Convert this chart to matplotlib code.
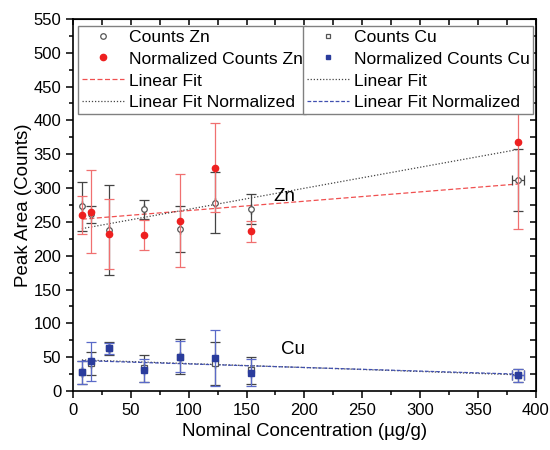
import matplotlib
matplotlib.use("Agg")
import matplotlib.pyplot as plt
from matplotlib.lines import Line2D
import numpy as np

plt.rcParams['font.family'] = ['Liberation Sans', 'DejaVu Sans']

# nominal concentrations (ug/g)
conc = [7.7, 15.4, 30.8, 61.5, 92.3, 123.0, 153.8, 384.6]
conc_err = [0, 0, 0, 0, 0, 0, 0, 5.5]

# Zn
zn_counts = [273, 261, 238, 269, 240, 278, 269, 312]
zn_counts_err = [36, 13, 67, 14, 34, 45, 22, 46]
zn_norm = [260, 265, 232, 231, 252, 330, 236, 368]
zn_norm_err = [28, 61, 52, 22, 69, 66, 16, 129]

# Cu
cu_counts = [28, 41, 63, 34, 51, 41, 31, 23]
cu_counts_err = [17, 17, 9, 20, 26, 32, 20, 9]
cu_norm = [28, 44, 63, 31, 51, 49, 27, 23]
cu_norm_err = [17, 29, 8, 17, 23, 41, 20, 9]

# linear fits (end points)
fit_x = [7.7, 384.6]
zn_fit = [254, 306]
zn_fit_norm = [240, 357]
cu_fit = [46, 24]
cu_fit_norm = [45, 25]

fig, ax = plt.subplots(figsize=(5.5, 4.5), dpi=100)
fig.subplots_adjust(left=0.1327, right=0.974, bottom=0.131, top=0.958)

eb = dict(elinewidth=0.9, capsize=3.5, capthick=0.9)

# Zn series
ax.errorbar(conc, zn_counts, yerr=zn_counts_err, xerr=conc_err, fmt='o', ms=4,
            mfc='white', mec='#555555', mew=0.9, ecolor='#444444', zorder=3, **eb)
ax.errorbar(conc, zn_norm, yerr=zn_norm_err, fmt='o', ms=4.5, color='#ee2020',
            ecolor='#f07070', zorder=4, **eb)
l_zn, = ax.plot(fit_x, zn_fit, ls=(0, (4, 2)), color='#f05050', lw=0.9)
l_znn, = ax.plot(fit_x, zn_fit_norm, ls=(0, (1, 1.5)), color='#444444', lw=0.9)

# Cu series
ax.errorbar(conc, cu_counts, yerr=cu_counts_err, xerr=conc_err, fmt='s', ms=4,
            mfc='white', mec='#555555', mew=0.9, ecolor='#444444', zorder=3, **eb)
ax.errorbar(conc, cu_norm, yerr=cu_norm_err, xerr=conc_err, fmt='s', ms=4,
            color='#2a3c9c', ecolor='#5a6ac8', zorder=4, **eb)
l_cu, = ax.plot(fit_x, cu_fit, ls=(0, (1, 1.5)), color='#444444', lw=0.9)
l_cun, = ax.plot(fit_x, cu_fit_norm, ls=(0, (3, 1.5)), color='#4050b0', lw=0.9)

ax.text(183, 287, 'Zn', fontsize=13.5, ha='center', va='center')
ax.text(190, 62, 'Cu', fontsize=13.5, ha='center', va='center')

ax.set_xlim(0, 400)
ax.set_ylim(0, 550)
ax.set_xticks(np.arange(0, 401, 50))
ax.set_xticks(np.arange(0, 401, 25), minor=True)
ax.set_yticks(np.arange(0, 551, 50))
ax.set_yticks(np.arange(0, 551, 25), minor=True)
ax.tick_params(which='major', direction='out', length=5, width=1.1, labelsize=12)
ax.tick_params(which='minor', direction='out', length=3, width=1.1)
for s in ax.spines.values():
    s.set_linewidth(1.2)

sx = ax.secondary_xaxis('top')
sx.set_xticks(np.arange(0, 401, 25))
sx.tick_params(direction='in', length=4, width=1.1, labeltop=False)
sy = ax.secondary_yaxis('right')
sy.set_yticks(np.arange(0, 551, 25))
sy.tick_params(direction='in', length=4, width=1.1, labelright=False)

ax.set_xlabel('Nominal Concentration (µg/g)', fontsize=13.5)
ax.set_ylabel('Peak Area (Counts)', fontsize=13.5, labelpad=1)

# legend handles: markers only
m_znc = Line2D([], [], ls='none', marker='o', ms=4, mfc='white', mec='#555555', mew=0.9)
m_znn = Line2D([], [], ls='none', marker='o', ms=4.5, color='#ee2020')
m_cuc = Line2D([], [], ls='none', marker='s', ms=3.5, mfc='white', mec='#555555', mew=0.9)
m_cun = Line2D([], [], ls='none', marker='s', ms=3.5, color='#2a3c9c')

leg_kw = dict(fontsize=12.6, frameon=True, fancybox=False, framealpha=1,
              edgecolor='#808080', borderaxespad=0, handlelength=2.4,
              handletextpad=0.3, labelspacing=0.38, borderpad=0.2)
leg1 = ax.legend([m_znc, m_znn, l_zn, l_znn],
                 ['Counts Zn', 'Normalized Counts Zn', 'Linear Fit', 'Linear Fit Normalized'],
                 loc='upper left', bbox_to_anchor=(0.011, 0.981), **leg_kw)
leg1.get_frame().set_linewidth(1)
ax.add_artist(leg1)
leg2 = ax.legend([m_cuc, m_cun, l_cu, l_cun],
                 ['Counts Cu', 'Normalized Counts Cu', 'Linear Fit', 'Linear Fit Normalized'],
                 loc='upper right', bbox_to_anchor=(0.995, 0.981), **leg_kw)
leg2.get_frame().set_linewidth(1)

plt.savefig('out.png', dpi=100)
